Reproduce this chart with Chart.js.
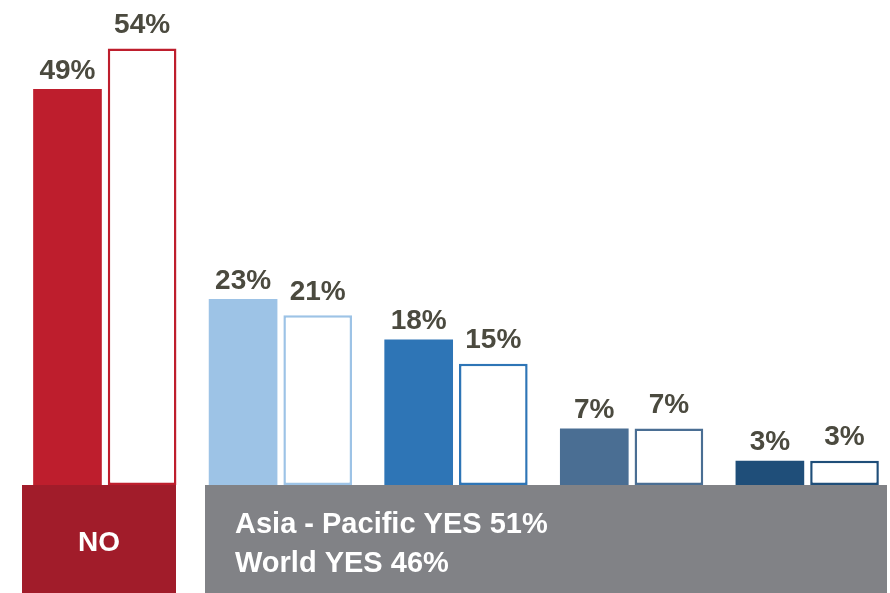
<!DOCTYPE html>
<html>
<head>
<meta charset="utf-8">
<script src="https://cdn.jsdelivr.net/npm/chart.js@4"></script>
<style>
  html, body { margin: 0; background: #fff; overflow: hidden; }
</style>
</head>
<body>
<canvas id="chart" width="896" height="593"></canvas>
<script>
let categories = ["NO", "YES 1", "YES 2", "YES 3", "YES 4"];
let asiaPacific = [49, 23, 18, 7, 3];
let world = [54, 21, 15, 7, 3];
let barColors = ["#be1e2d", "#9dc3e6", "#2e75b6", "#4a6e93", "#1f4e79"];
let noText = "NO";
let yesLines = ["Asia - Pacific YES 51%", "World YES 46%"];

let labelFont = "bold 28px 'Liberation Sans', Arial, sans-serif";
let boxFont = "bold 28px 'Liberation Sans', Arial, sans-serif";

// value labels over each bar
let valueLabels = {
  id: "valueLabels",
  afterDatasetsDraw(chart) {
    let ctx = chart.ctx;
    ctx.save();
    ctx.font = labelFont;
    ctx.fillStyle = "#4b4a3f";
    ctx.textAlign = "center";
    ctx.textBaseline = "bottom";
    chart.data.datasets.forEach((ds, d) => {
      let meta = chart.getDatasetMeta(d);
      meta.data.forEach((bar, i) => {
        let gap = d == 0 ? 4 : 9;
        ctx.fillText(ds.data[i] + "%", bar.x, bar.y - gap);
      });
    });
    ctx.restore();
  }
};

// the NO / YES boxes under the bars
let bottomBoxes = {
  id: "bottomBoxes",
  afterDraw(chart) {
    let ctx = chart.ctx;
    let top = chart.chartArea.bottom;
    let h = chart.height - top;
    ctx.save();
    ctx.fillStyle = "#a11c2a";
    ctx.fillRect(22, top, 154, h);
    ctx.fillStyle = "#818286";
    ctx.fillRect(205, top, 682, h);

    ctx.fillStyle = "#ffffff";
    ctx.font = boxFont;
    ctx.textBaseline = "middle";
    ctx.textAlign = "center";
    ctx.fillText(noText, 99, top + 58);
    ctx.textAlign = "left";
    ctx.font = "bold 29px 'Liberation Sans', Arial, sans-serif";
    ctx.fillText(yesLines[0], 235, top + 40);
    ctx.fillText(yesLines[1], 235, top + 79);
    ctx.restore();
  }
};

let ctxChart = new Chart(document.getElementById("chart"), {
  type: "bar",
  data: {
    labels: categories,
    datasets: [
      {
        label: "Asia - Pacific",
        data: asiaPacific,
        backgroundColor: barColors,
        borderWidth: 0,
        categoryPercentage: 0.85,
        barPercentage: 0.92
      },
      {
        label: "World",
        data: world,
        backgroundColor: "#ffffff",
        borderColor: barColors,
        borderWidth: 2.5,
        borderSkipped: false,
        categoryPercentage: 0.85,
        barPercentage: 0.92
      }
    ]
  },
  options: {
    responsive: false,
    animation: false,
    layout: { padding: { left: 17, right: 1, top: 0, bottom: 108 } },
    plugins: {
      legend: { display: false },
      tooltip: { enabled: false }
    },
    scales: {
      x: { display: false },
      y: { display: false, min: 0, max: 60 }
    }
  },
  plugins: [valueLabels, bottomBoxes]
});
</script>
</body>
</html>
